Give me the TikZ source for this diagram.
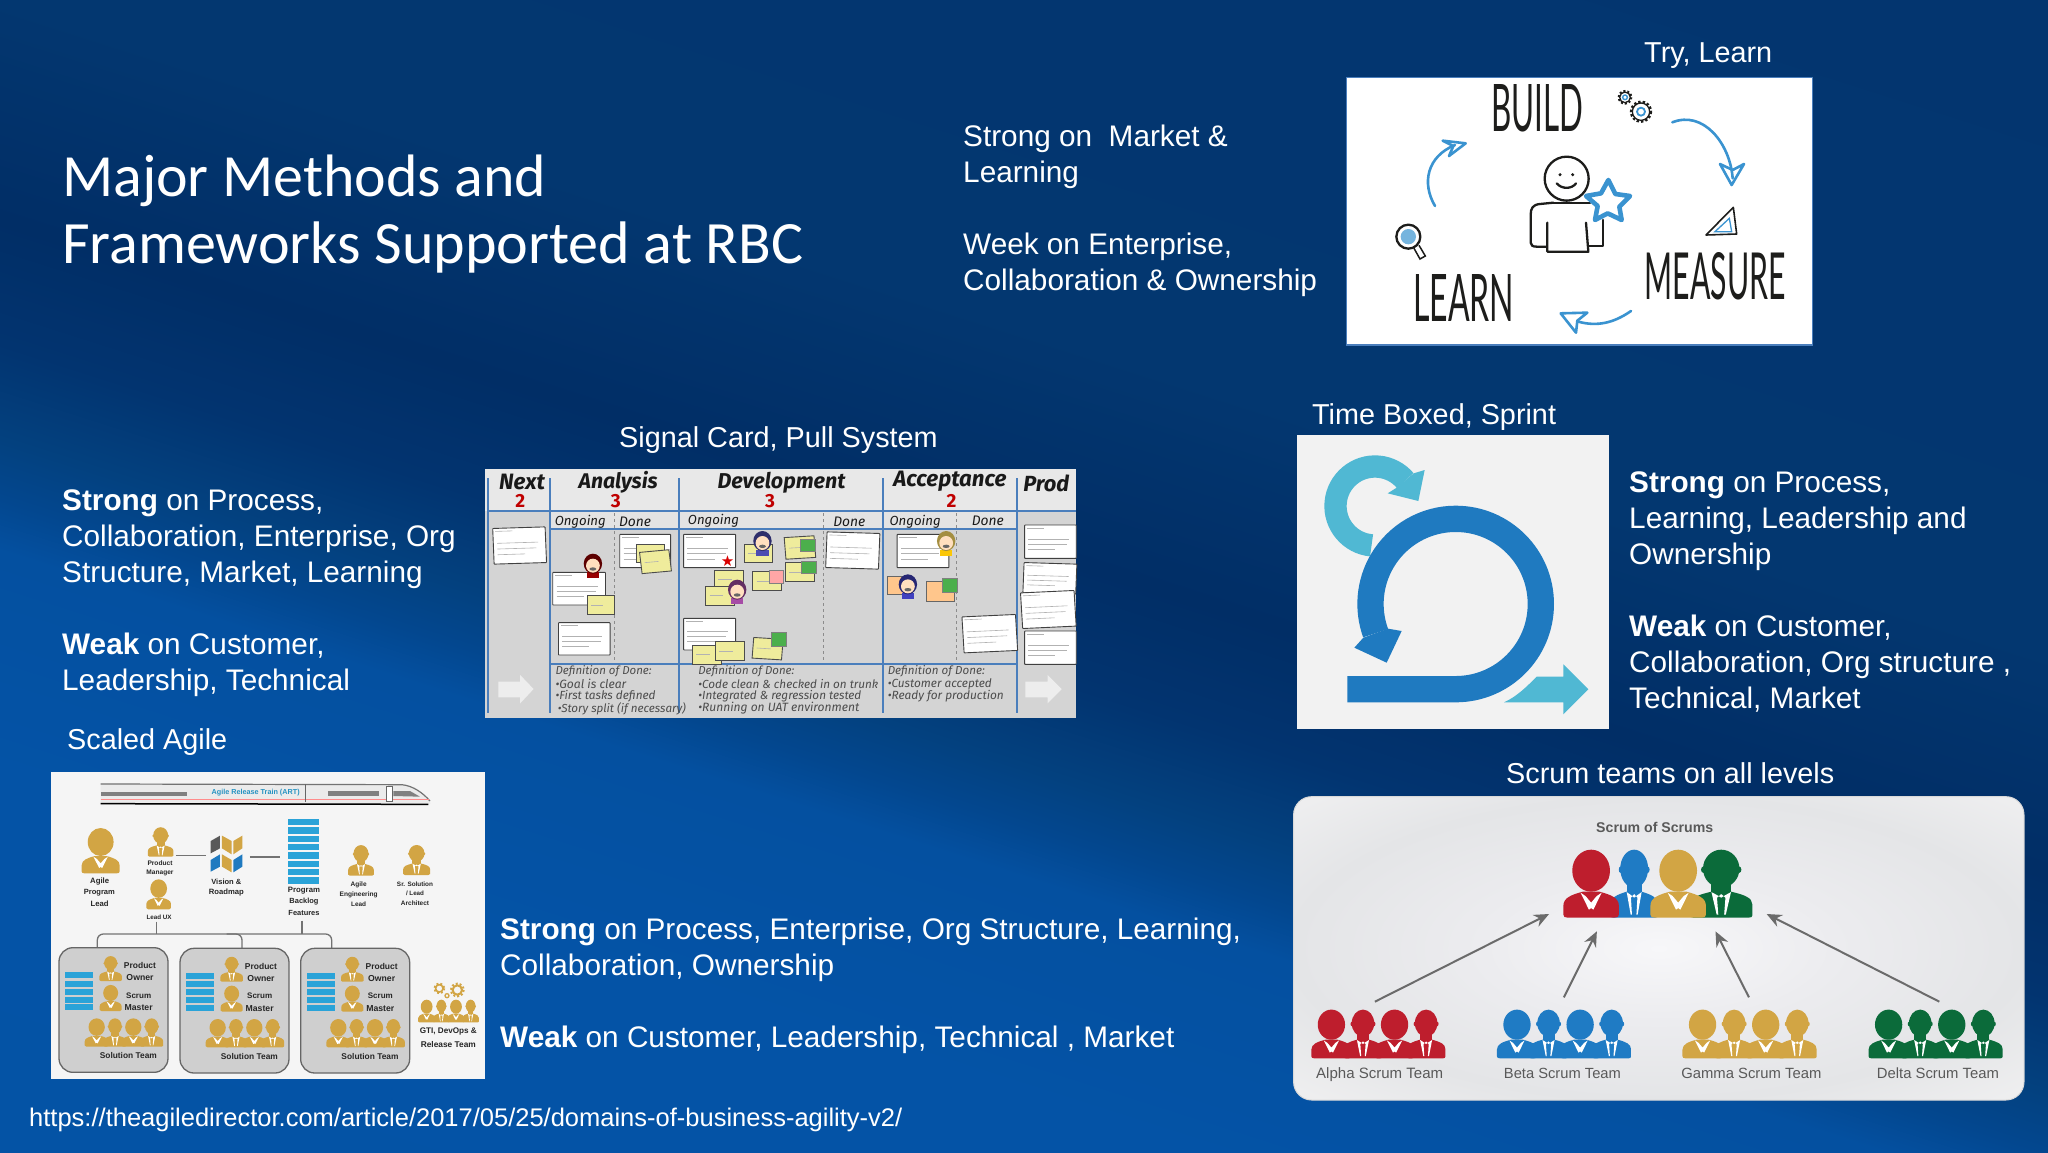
\documentclass[tikz,border=0pt]{standalone}
\usepackage{graphicx}
\usepackage{fontspec}
\setmainfont{Liberation Sans}
\newfontfamily\titlef{Carlito}
\newfontfamily\handf{Lato}
\newfontfamily\kanf{Fira Sans}
\usetikzlibrary{arrows.meta}
\definecolor{gold}{HTML}{D2A544}
\definecolor{rd}{HTML}{BE1E2D}
\definecolor{bl}{HTML}{1F7BC4}
\definecolor{gr}{HTML}{0B6B3A}
\definecolor{loopB}{HTML}{1F7AC0}
\definecolor{loopC}{HTML}{50B8D3}
\definecolor{inkk}{HTML}{1D1D1B}
\definecolor{sky}{HTML}{3A93D0}
\definecolor{kline}{HTML}{4A7EBC}
\definecolor{stick}{HTML}{EFEC9C}
\definecolor{stack}{HTML}{2AA3D8}
\definecolor{b0}{HTML}{0453A4}
\definecolor{b1}{HTML}{0453A6}
\definecolor{b2}{HTML}{0450A0}
\definecolor{b3}{HTML}{03478F}
\definecolor{b4}{HTML}{03417F}
\definecolor{b5}{HTML}{023470}
\definecolor{b6}{HTML}{012E66}
\definecolor{b7}{HTML}{033770}
\definecolor{b8}{HTML}{03346F}
\definecolor{p0}{HTML}{F7F7F9}
\definecolor{p1}{HTML}{ECECEF}
\definecolor{p2}{HTML}{E4E5E7}
\definecolor{p3}{HTML}{EFEFF0}
\pgfdeclareverticalshading{slidebg}{100bp}{
 color(0bp)=(b0); color(25bp)=(b0);
 color(42.3bp)=(b1); color(46.4bp)=(b2);
 color(47.35bp)=(b3); color(48.45bp)=(b4);
 color(50.2bp)=(b5); color(52.45bp)=(b6);
 color(56.5bp)=(b7); color(75bp)=(b8); color(100bp)=(b8)}
\pgfdeclareradialshading{panelbg}{\pgfpoint{0bp}{0bp}}{
 color(0bp)=(p0); color(12bp)=(p1); color(25bp)=(p2); color(35bp)=(p3); color(50bp)=(p3)}
\tikzset{
 x=1pt,y=-1pt,
 body/.style={font=\fontsize{29.75}{36}\selectfont,text=white,align=left,anchor=north west,inner sep=0pt},
 caplabel/.style={font=\fontsize{28.8}{36}\selectfont,text=white,anchor=base west,inner sep=0pt},
 ttl/.style={text=white,anchor=base west,inner sep=0pt},
 kcard/.style={fill=white,draw=black!75,line width=0.9pt,rounded corners=0.6pt},
 kstick/.style={fill=stick,draw=black!70,line width=0.9pt},
 kgreen/.style={fill=green!55!black!70!white,draw=black!50,line width=0.6pt},
 kblue/.style={draw=kline,line width=1.9pt},
 kdash/.style={draw=black!45,dashed,line width=0.7pt},
 kgray/.style={draw=black!30,line width=0.6pt},
 khand/.style={inner sep=0pt,text=black!90},
 kdod/.style={inner sep=0pt,anchor=west,text=black!70},
 stext/.style={inner sep=0pt,text=black!85},
 slink/.style={draw=black!55,line width=1.3pt},
 teamlabel/.style={inner sep=0pt,anchor=base,text=black!65},
 scrumarrow/.style={draw=black!58,line width=2pt,-{Stealth[length=15pt,width=13pt,inset=5pt]}},
 hstroke/.style={draw=inkk,line width=2.3pt,line cap=round,line join=round},
 bstroke/.style={draw=sky,line width=2.6pt,line cap=round,line join=round},
 teambox/.style={fill=black!19,draw=black!60,line width=1.3pt,rounded corners=14pt},
}
% people: #1 x, #2 bottom y, #3 x scale, #4 y scale, #5 colour
\newcommand\womp[5]{\begin{scope}[shift={(#1,#2)},xscale=#3,yscale=#4]
 \fill[#5] (0,-235) ellipse [x radius=68,y radius=105];
 \fill[#5] (-100,-15) -- (-100,-60) .. controls (-100,-100) and (-70,-115) .. (-30,-130) -- (30,-130) .. controls (70,-115) and (100,-100) .. (100,-60) -- (100,-15) .. controls (100,-5) and (95,0) .. (85,0) -- (-85,0) .. controls (-95,0) and (-100,-5) .. (-100,-15) -- cycle;
 \fill[white] (-38,-125) -- (-8,-40) -- (0,-48) -- (8,-40) -- (38,-125) -- (20,-108) -- (0,-75) -- (-20,-108) -- cycle;
\end{scope}}
\newcommand\manp[5]{\begin{scope}[shift={(#1,#2)},xscale=#3,yscale=#4]
 \fill[#5] (0,-245) ellipse [x radius=56,y radius=95];
 \fill[#5] (-55,-240) ellipse [x radius=7,y radius=16];
 \fill[#5] (55,-240) ellipse [x radius=7,y radius=16];
 \fill[#5] (-30,-170) rectangle (30,-110);
 \fill[#5] (-96,-12) -- (-96,-65) .. controls (-96,-100) and (-70,-115) .. (-30,-130) -- (30,-130) .. controls (70,-115) and (96,-100) .. (96,-65) -- (96,-12) .. controls (96,-4) and (92,0) .. (84,0) -- (-84,0) .. controls (-92,0) and (-96,-4) .. (-96,-12) -- cycle;
 \fill[white] (-30,-128) -- (-14,-15) -- (-9,-15) -- (-13,-100) -- (0,-118) -- (13,-100) -- (9,-15) -- (14,-15) -- (30,-128) -- (12,-112) -- (0,-100) -- (-12,-112) -- cycle;
\end{scope}}
\newcommand\teamfour[6]{% x y sx sy step colour
 \manp{#1+#5}{#2}{#3}{#4}{#6}\manp{#1+3*#5}{#2}{#3}{#4}{#6}
 \womp{#1}{#2}{#3}{#4}{#6}\womp{#1+2*#5}{#2}{#3}{#4}{#6}}
\newcommand\fw[2]{\resizebox{#1pt}{!}{#2}}
\newcommand\fwh[3]{\resizebox{#1pt}{#2pt}{#3}}
\newcommand\kcardat[5][0]{% rot x1 y1 x2 y2
 \begin{scope}[rotate around={#1:({(#2+#4)/2},{(#3+#5)/2})}]
  \draw[kcard] (#2,#3) rectangle (#4,#5);
  \draw[kgray] (#2+6,#3+9) -- ++(45,0);
  \draw[kgray] (#2+10,{#3+(#5-#3)*.42}) -- (#4-20,{#3+(#5-#3)*.42});
  \draw[kgray] (#2+10,{#3+(#5-#3)*.58}) -- (#4-25,{#3+(#5-#3)*.58});
  \draw[kgray] (#2+10,{#3+(#5-#3)*.74}) -- (#4-55,{#3+(#5-#3)*.74});
 \end{scope}}
\newcommand\kstickat[5][0]{%
 \begin{scope}[rotate around={#1:({(#2+#4)/2},{(#3+#5)/2})}]
  \draw[kstick] (#2,#3) rectangle (#4,#5);
  \draw[kgray] (#2+10,{(#3+#5)/2}) -- (#4-30,{(#3+#5)/2});
 \end{scope}}
\newcommand\kperson[3]{% x y shirt
 \fill[#3] (#1-16,#2+22) rectangle (#1+16,#2+40);
 \fill[#3!60!black] (#1,#2-4) ellipse [x radius=24,y radius=30];
 \fill[orange!25!white] (#1,#2+2) ellipse [x radius=18,y radius=21];
 \fill[black!60] (#1,#2+12) ellipse [x radius=9,y radius=5];
}
\begin{document}
\begin{tikzpicture}
\useasboundingbox (0,0) rectangle (2048,1152);
\begin{scope}
 \clip (0,0) rectangle (2048,1152);
 \begin{scope}[transform canvas={rotate around={-17.7:(1024,576)}}]
  \shade[shading=slidebg] (-676,-624) rectangle (2724,1976);
 \end{scope}
\end{scope}

% ---- title and texts
\node[ttl] (title1) at (62,196) {\fw{484}{\titlef Major Methods and}};
\node[ttl] (title2) at (62,263) {\fw{741}{\titlef Frameworks Supported at RBC}};
\node[caplabel] (trylearn) at (1644,62) {Try, Learn};
\node[body] (leanweak) at (963,121) {\strut Strong on\ \ Market \&\\Learning\\[36pt]Week on Enterprise,\\Collaboration \& Ownership};
\node[caplabel] (signalcap) at (619,447) {Signal Card, Pull System};
\node[body] (kanbantxt) at (62,485) {\strut\textbf{Strong} on Process,\\Collaboration, Enterprise, Org\\Structure, Market, Learning\\[36pt]\textbf{Weak} on Customer,\\Leadership, Technical};
\node[caplabel] (timecap) at (1312,424) {Time Boxed, Sprint};
\node[body] (scrumtxt) at (1629,467) {\strut\textbf{Strong} on Process,\\Learning, Leadership and\\Ownership\\[36pt]\textbf{Weak} on Customer,\\Collaboration, Org structure ,\\Technical, Market};
\node[caplabel] (safecap) at (67,749) {Scaled Agile};
\node[caplabel] (sofscap) at (1506,783) {Scrum teams on all levels};
\node[body] (safetxt) at (500,914) {\strut\textbf{Strong} on Process, Enterprise, Org Structure, Learning,\\Collaboration, Ownership\\[36pt]\textbf{Weak} on Customer, Leadership, Technical , Market};
\node[ttl,font=\fontsize{25.5}{30}\selectfont] (url) at (29,1126) {https://theagiledirector.com/article/2017/05/25/domains-of-business-agility-v2/};

% ---- Build / Measure / Learn
\begin{scope}[shift={(1340,70)},scale=1/3]
 \draw[fill=white,draw=kline,line width=1.4pt] (20,22) rectangle (1418,825);
 \node[inner sep=0pt,text=inkk] (build) at (592,116) {\fwh{92}{47}{\handf BUILD}};
 \node[inner sep=0pt,text=inkk] (measure) at (1126,620) {\fwh{141}{47}{\handf MEASURE}};
 \node[inner sep=0pt,text=inkk] (learn) at (371,685) {\fwh{101}{47}{\handf LEARN}};
 \draw[bstroke] (997,157) .. controls (1090,120) and (1170,220) .. (1178,325);
 \draw[bstroke] (1140,282) -- (1175,345) -- (1212,282) -- (1178,300) -- cycle;
 \draw[bstroke] (285,408) .. controls (245,340) and (260,260) .. (345,225);
 \draw[bstroke] (308,212) -- (377,220) -- (327,258) -- (340,228) -- cycle;
 \draw[bstroke] (873,723) .. controls (820,760) and (770,770) .. (715,755);
 \draw[bstroke] (662,730) -- (742,728) -- (712,752) -- (708,788) -- cycle;
 % person
 \draw[hstroke] (640,398) -- (600,402) .. controls (578,404) and (572,415) .. (572,435) -- (572,518) .. controls (572,526) and (578,530) .. (590,530) -- (620,530);
 \draw[hstroke] (640,398) -- (750,398);
 \draw[hstroke] (622,458) -- (622,545) -- (745,545) -- (738,458);
 \draw[hstroke] (745,528) -- (788,528) -- (788,450);
 \draw[hstroke,fill=white] (680,326) circle [radius=66];
 \fill[inkk] (660,314) circle [radius=5];
 \fill[inkk] (698,314) circle [radius=5];
 \draw[hstroke] (650,340) .. controls (665,358) and (695,358) .. (708,340);
 \draw[draw=sky,line width=4.6pt,line join=round,fill=white] (805,330) -- (826,372) -- (870,378) -- (838,410) -- (845,450) -- (803,430) -- (765,450) -- (773,408) -- (738,378) -- (783,370) -- cycle;
 % gears
 \draw[inkk,line width=1.3pt] (855,82) circle [radius=16];
 \draw[inkk,line width=2pt,dotted] (855,82) circle [radius=19];
 \draw[sky,line width=1.4pt] (855,82) circle [radius=7];
 \draw[inkk,line width=1.3pt] (903,125) circle [radius=26];
 \draw[inkk,line width=2.4pt,dotted] (903,125) circle [radius=30];
 \draw[sky,line width=1.8pt] (903,125) circle [radius=12];
 % set square
 \draw[draw=inkk,line width=1.6pt,line join=round] (1098,495) -- (1180,412) -- (1190,492) -- cycle;
 \draw[draw=sky,line width=1.3pt] (1125,485) -- (1168,445) -- (1175,485) -- cycle;
 % magnifier
 \draw[hstroke] (205,500) circle [radius=36];
 \fill[sky!70] (205,500) circle [radius=23];
 \draw[draw=inkk,line width=1.5pt] (222,535) -- (240,567) -- (256,558) -- (237,526);
\end{scope}

% ---- Kanban board
\begin{scope}[shift={(480,465)},xscale=1/2.613,yscale=1/3]
 \fill[black!17] (12,12) rectangle (1558,758);
 \fill[black!9] (12,12) rectangle (1558,138);
 \fill[black!11] (183,140) rectangle (1403,192);
 % bottom arrows
 \fill[black!7] (48,650) -- (105,650) -- (105,630) -- (140,672) -- (105,715) -- (105,697) -- (48,697) -- cycle;
 \fill[black!7] (1425,650) -- (1483,650) -- (1483,630) -- (1520,672) -- (1483,715) -- (1483,697) -- (1425,697) -- cycle;
 % rules
 \draw[kdash] (352,145) -- (352,595);
 \draw[kdash] (897,145) -- (897,595);
 \draw[kdash] (1245,145) -- (1245,595);
 \foreach \xx in {22,183,520,1053,1403} \draw[kblue] (\xx,40) -- (\xx,745);
 \draw[kblue] (22,138) -- (1558,138);
 \draw[kblue] (183,192) -- (1403,192);
 \draw[kblue] (183,597) -- (1403,597);
 % headers
 \node[khand] (hnext) at (110,52) {\fw{46}{\kanf\textbf{\textit{Next}}}};
 \node[khand] (hana) at (361,52) {\fw{79}{\kanf\textbf{\textit{Analysis}}}};
 \node[khand] (hdev) at (788,52) {\fw{128}{\kanf\textbf{\textit{Development}}}};
 \node[khand] (hacc) at (1228,50) {\fw{113}{\kanf\textbf{\textit{Acceptance}}}};
 \node[khand] (hprod) at (1480,55) {\fw{46}{\kanf\textbf{\textit{Prod}}}};
 \foreach \xx/\nn in {105/2,355/3,758/3,1232/2} \node[inner sep=0pt,text=red!75!black,font=\bfseries\fontsize{19}{20}\selectfont] at (\xx,107) {\kanf\nn};
 % sub headers
 \node[khand] (o1) at (262,170) {\fw{51}{\kanf\textit{Ongoing}}};
 \node[khand] (d1) at (405,170) {\fw{32}{\kanf\textit{Done}}};
 \node[khand] (o2) at (610,168) {\fw{51}{\kanf\textit{Ongoing}}};
 \node[khand] (d2) at (965,170) {\fw{32}{\kanf\textit{Done}}};
 \node[khand] (o3) at (1137,170) {\fw{51}{\kanf\textit{Ongoing}}};
 \node[khand] (d3) at (1327,167) {\fw{32}{\kanf\textit{Done}}};
 % cards
 \kcardat[2]{35}{188}{172}{295}
 \kcardat{190}{322}{328}{420}
 \kstickat{280}{392}{352}{447}
 \kcardat{205}{473}{340}{570}
 \kperson{295}{300}{red!60!black}
 \kcardat{365}{208}{498}{308}
 \kstickat{410}{237}{483}{292}
 \kstickat[6]{420}{258}{497}{322}
 \kcardat{532}{208}{668}{308}
 \node[inner sep=0pt,text=red!85!black,font=\fontsize{15}{15}\selectfont] (st) at (647,287) {\fontspec{DejaVu Sans}★};
 \kstickat{690}{238}{763}{293}
 \kperson{738}{232}{blue!40!gray}
 \kstickat[4]{797}{215}{875}{280}
 \draw[kgreen] (838,222) rectangle (875,258);
 \kstickat{797}{293}{873}{348}
 \draw[kgreen] (840,288) rectangle (878,325);
 \kstickat{713}{320}{788}{377}
 \fill[red!35!white,draw=black!50,line width=.6pt] (757,316) rectangle (793,355);
 \kstickat{612}{315}{688}{372}
 \kstickat{590}{363}{665}{420}
 \kperson{672}{378}{violet!70!white}
 \kcardat{532}{460}{668}{555}
 \kstickat{555}{541}{630}{597}
 \kstickat{615}{530}{690}{585}
 \kstickat[-4]{713}{520}{790}{582}
 \draw[kgreen] (762,502) rectangle (800,543);
 \kcardat[-2]{905}{203}{1043}{310}
 \kcardat{1090}{208}{1225}{308}
 \kperson{1218}{232}{yellow!60!orange}
 \fill[orange!45!white,draw=black!60,line width=.8pt] (1065,335) rectangle (1130,388);
 \kperson{1118}{362}{blue!50!gray}
 \fill[orange!45!white,draw=black!60,line width=.8pt] (1167,348) rectangle (1240,408);
 \draw[kgreen] (1208,340) rectangle (1247,383);
 \kcardat[3]{1262}{452}{1402}{560}
 \kcardat{1423}{180}{1558}{280}
 \kcardat[-2]{1420}{295}{1558}{385}
 \kcardat[3]{1415}{380}{1555}{487}
 \kcardat{1423}{498}{1558}{598}
 % definitions of done
 \node[kdod] (dod1) at (197,620) {\fw{96}{\kanf\textit{Definition of Done:}}};
 \node[kdod] (dod1a) at (197,658) {\fw{71}{\kanf\textit{•Goal is clear}}};
 \node[kdod] (dod1b) at (197,693) {\fw{100}{\kanf\textit{•First tasks defined}}};
 \node[kdod] (dod1c) at (203,730) {\fw{128}{\kanf\textit{•Story split (if necessary)}}};
 \node[kdod] (dod2) at (570,620) {\fw{96}{\kanf\textit{Definition of Done:}}};
 \node[kdod] (dod2a) at (570,658) {\fw{180}{\kanf\textit{•Code clean \& checked in on trunk}}};
 \node[kdod] (dod2b) at (570,693) {\fw{163}{\kanf\textit{•Integrated \& regression tested}}};
 \node[kdod] (dod2c) at (570,730) {\fw{161}{\kanf\textit{•Running on UAT environment}}};
 \node[kdod] (dod3) at (1065,620) {\fw{97}{\kanf\textit{Definition of Done:}}};
 \node[kdod] (dod3a) at (1065,658) {\fw{104}{\kanf\textit{•Customer accepted}}};
 \node[kdod] (dod3b) at (1065,693) {\fw{116}{\kanf\textit{•Ready for production}}};
\end{scope}

% ---- Scrum loop
\begin{scope}[shift={(1290,430)},scale=1/3]
 \fill[black!5] (20,14) rectangle (958,898);
 \draw[loopC,line width=22.3pt] (255,228) ++(95:118.5) arc (95:320:118.5);
 \fill[loopC] (371,130) -- (404,120) -- (385,213) -- (293,190) -- (320,173) -- cycle;
 \fill[loopC] (642,817) .. controls (680,800) and (710,770) .. (740,740) -- (820,740) -- (820,703) -- (895,778) -- (820,853) -- (820,817) -- cycle;
 \draw[loopB,line width=26.3pt] (172,777.5) -- (497,777.5) arc (90:-200:255.5);
 \fill[loopB] (220,623) -- (193,653) -- (290,698) -- (335,603) -- (294,596) -- cycle;
\end{scope}

% ---- Scaled agile
\begin{scope}[shift={(40,765)},scale=1/3]
 \fill[black!4] (33,22) rectangle (1335,943);
 % train
 \fill[black!8] (182,56) -- (1085,58) .. controls (1120,62) and (1165,95) .. (1172,116) -- (182,120) -- cycle;
 \draw[black!55,line width=1.2pt] (182,57) -- (1085,59) .. controls (1120,62) and (1150,85) .. (1170,108);
 \fill[black!50] (182,80) rectangle (440,93);
 \fill[black!50] (865,78) rectangle (1017,93);
 \fill[black!50] (1060,78) -- (1110,78) -- (1140,95) -- (1060,93) -- cycle;
 \draw[red!45!white,line width=.8pt] (182,102) -- (1168,102);
 \draw[black,line width=1.5pt] (182,116) -- (1165,118);
 \draw[black!60,line width=.6pt] (797,58) -- (797,110);
 \draw[black!60,fill=white,line width=.6pt] (1038,65) rectangle (1056,110);
 \node[inner sep=0pt,text=stack!90!black] (art) at (647,83) {\fw{88}{\textbf{Agile Release Train (ART)}}};
 % leadership row
 \womp{182}{325}{.57}{.4}{gold}
 \manp{362}{275}{.4}{.26}{gold}
 \womp{356}{433}{.37}{.265}{gold}
 \manp{963}{332}{.4}{.27}{gold}
 \manp{1130}{330}{.42}{.265}{gold}
 \node[stext] (aplead) at (178,383) {\fw{31}{\textbf{Program}}};
 \node[stext] (aplead0) at (179,349) {\fw{19}{\textbf{Agile}}};
 \node[stext] (aplead2) at (179,416) {\fw{18}{\textbf{Lead}}};
 \node[stext] (pm1) at (360,293) {\fw{25}{\textbf{Product}}};
 \node[stext] (pm2) at (360,323) {\fw{27}{\textbf{Manager}}};
 \node[stext] (lux) at (357,456) {\fw{25}{\textbf{Lead UX}}};
 \node[stext] (vis1) at (559,349) {\fw{30}{\textbf{Vision \&}}};
 \node[stext] (vis2) at (559,382) {\fw{35}{\textbf{Roadmap}}};
 \node[stext] (pb1) at (792,378) {\fw{32}{\textbf{Program}}};
 \node[stext] (pb2) at (792,411) {\fw{29}{\textbf{Backlog}}};
 \node[stext] (pb3) at (792,445) {\fw{31}{\textbf{Features}}};
 \node[stext] (ae1) at (956,359) {\fw{16}{\textbf{Agile}}};
 \node[stext] (ae2) at (956,389) {\fw{38}{\textbf{Engineering}}};
 \node[stext] (ae3) at (956,417) {\fw{15}{\textbf{Lead}}};
 \node[stext] (sa1) at (1125,358) {\fw{36}{\textbf{Sr. Solution}}};
 \node[stext] (sa2) at (1125,386) {\fw{18}{\textbf{/ Lead}}};
 \node[stext] (sa3) at (1125,416) {\fw{28}{\textbf{Architect}}};
 % roadmap icon
 \fill[black!65] (512,228) -- (540,212) -- (540,250) -- (512,265) -- cycle;
 \fill[gold] (546,212) -- (575,228) -- (575,268) -- (546,250) -- cycle;
 \fill[gold] (580,228) -- (607,212) -- (607,250) -- (580,268) -- cycle;
 \fill[loopB] (512,285) -- (540,268) -- (540,305) -- (512,320) -- cycle;
 \fill[gold] (546,268) -- (575,285) -- (575,322) -- (546,305) -- cycle;
 \fill[loopB] (580,285) -- (607,268) -- (607,305) -- (580,322) -- cycle;
 \coordinate (vmL) at (498,271); \coordinate (vmR) at (630,276);
 \coordinate (pmR) at (408,271); \coordinate (blL) at (720,276);
 \draw[slink] (pmR) -- (vmL);
 \draw[slink] (vmR) -- (blL);
 % backlog stack
 \foreach \yy in {162,187,212,237,262,287,312,337} \fill[stack] (744,\yy) rectangle (838,\yy+19);
 % connectors
 \coordinate (uxb) at (349,470); \coordinate (uxj) at (349,507);
 \coordinate (fb) at (786,467); \coordinate (fj) at (786,507);
 \draw[slink] (uxb) -- (uxj);
 \draw[slink] (fb) -- (fj);
 \draw[slink,rounded corners=6pt] (172,548) -- (172,507) -- (875,507) -- (875,550);
 \draw[slink,rounded corners=6pt] (560,507) -- (606,507) -- (606,550);
 % team boxes
 \foreach \dx/\dy/\nm in {0/0/a,363/2/b,725/2/c}{
  \begin{scope}[shift={(\dx,\dy)}]
   \draw[teambox] (57,548) rectangle (384,922);
   \foreach \yy in {622,647,671,695,717} \fill[stack] (75,\yy) rectangle (160,\yy+18);
   \manp{212}{648}{.35}{.22}{gold}
   \womp{212}{738}{.33}{.23}{gold}
   \node[stext] (po1\nm) at (300,601) {\fw{32}{\textbf{Product}}};
   \node[stext] (po2\nm) at (300,639) {\fw{27}{\textbf{Owner}}};
   \node[stext] (sm1\nm) at (296,691) {\fw{25}{\textbf{Scrum}}};
   \node[stext] (sm2\nm) at (296,728) {\fw{28}{\textbf{Master}}};
   \teamfour{170}{845}{.36}{.25}{55}{gold}
   \node[stext] (st\nm) at (265,871) {\fw{57}{\textbf{Solution Team}}};
  \end{scope}}
 % GTI
 \draw[gold,line width=2pt,dotted] (1198,670) circle [radius=15];
 \draw[gold,line width=1.5pt] (1198,670) circle [radius=11];
 \draw[gold,line width=2pt,dotted] (1252,675) circle [radius=19];
 \draw[gold,line width=2pt] (1252,675) circle [radius=14];
 \draw[gold,line width=1.3pt] (1221,692) circle [radius=6];
 \teamfour{1160}{772}{.26}{.2}{44}{gold}
 \node[stext] (gti1) at (1225,800) {\fw{57}{\textbf{GTI, DevOps \&}}};
 \node[stext] (gti2) at (1225,838) {\fw{55}{\textbf{Release Team}}};
\end{scope}

% ---- Scrum of scrums
\begin{scope}[shift={(1285,790)},xscale=1/2.0907,yscale=1/3]
 \shade[shading=panelbg,rounded corners=18pt] (18,20) rectangle (1545,930);
 \draw[black!15,line width=1pt,rounded corners=18pt] (18,20) rectangle (1545,930);
 \node[inner sep=0pt,text=black!65] (sos) at (773,113) {\fw{117}{\textbf{Scrum of Scrums}}};
 \manp{730}{383}{.52}{.6}{bl}
 \manp{912}{383}{.68}{.6}{gr}
 \womp{640}{383}{.58}{.6}{rd}
 \womp{822}{383}{.58}{.6}{gold}
 \teamfour{97}{805}{.42}{.43}{66}{rd}
 \teamfour{485}{805}{.42}{.43}{66}{bl}
 \teamfour{873}{805}{.42}{.43}{66}{gold}
 \teamfour{1262}{805}{.42}{.43}{66}{gr}
 \node[teamlabel] (alpha) at (198,865) {\fw{127}{Alpha Scrum Team}};
 \node[teamlabel] (beta) at (580,865) {\fw{117}{Beta Scrum Team}};
 \node[teamlabel] (gamma) at (975,865) {\fw{140}{Gamma Scrum Team}};
 \node[teamlabel] (delta) at (1365,865) {\fw{122}{Delta Scrum Team}};
 \coordinate (atop) at (188,635); \coordinate (aend) at (552,372);
 \coordinate (btop) at (583,622); \coordinate (bend) at (652,424);
 \coordinate (gtop) at (970,622); \coordinate (gend) at (900,424);
 \coordinate (dtop) at (1368,635); \coordinate (dend) at (1007,372);
 \draw[scrumarrow] (atop) -- (aend);
 \draw[scrumarrow] (btop) -- (bend);
 \draw[scrumarrow] (gtop) -- (gend);
 \draw[scrumarrow] (dtop) -- (dend);
\end{scope}
\end{tikzpicture}
\end{document}
